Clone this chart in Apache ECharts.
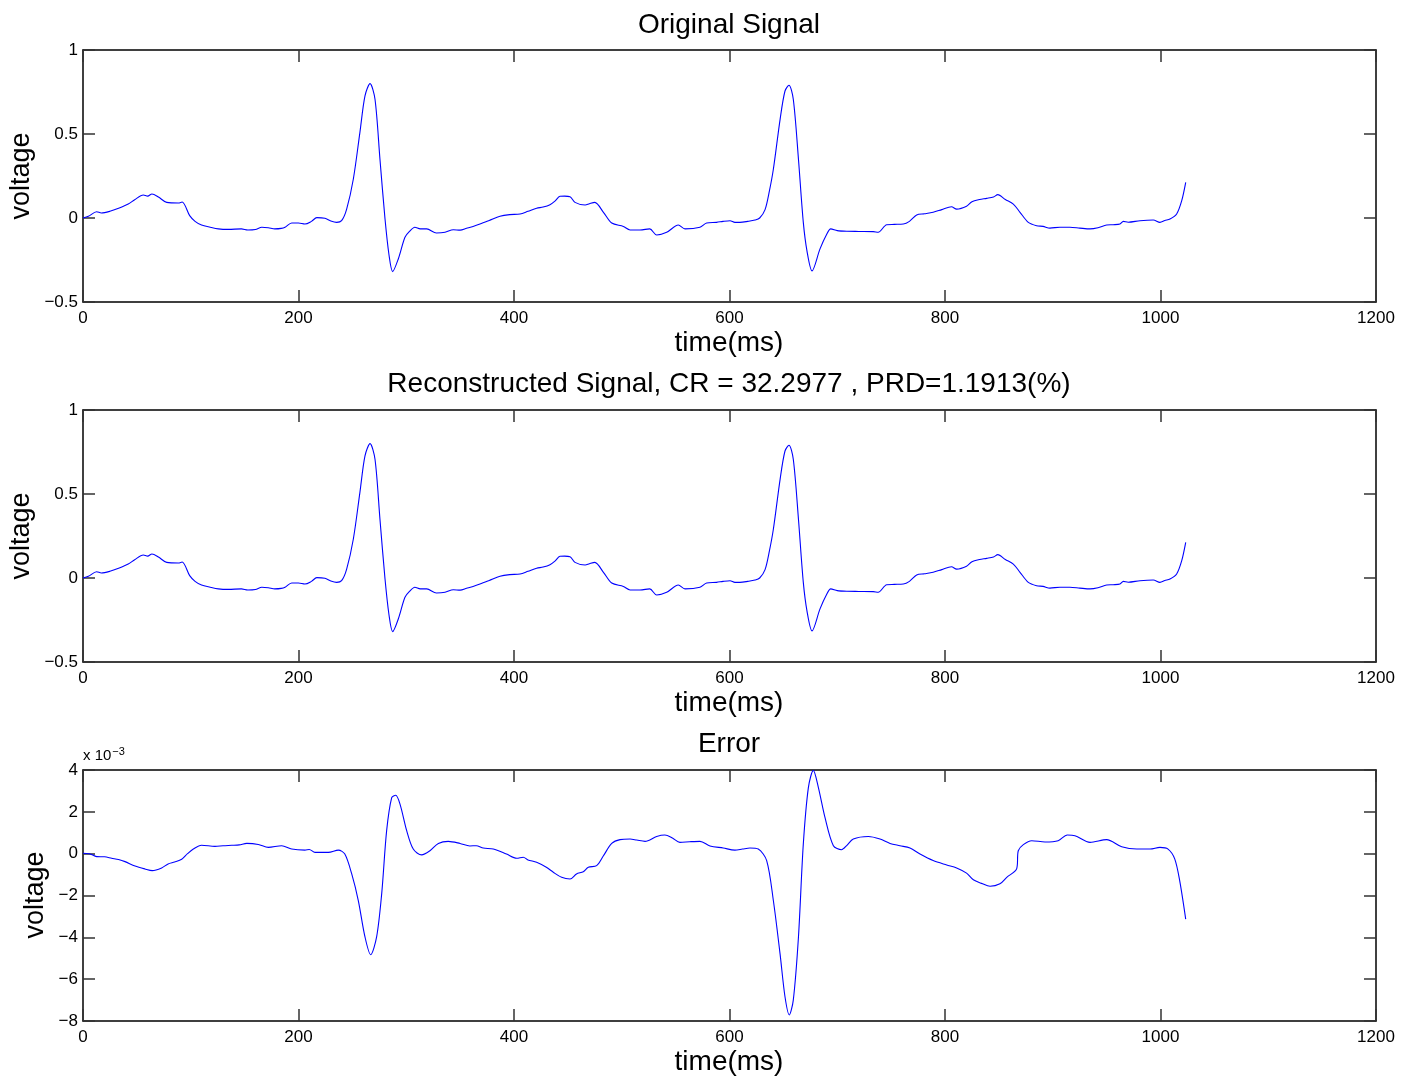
<!DOCTYPE html>
<html>
<head>
<meta charset="utf-8">
<title>ECG compression</title>
<script src="https://cdn.jsdelivr.net/npm/echarts@6/dist/echarts.min.js"></script>
<style>
  html, body { margin: 0; padding: 0; background: #fff; }
  #main { width: 1405px; height: 1083px; }
</style>
</head>
<body>
<div id="main"></div>
<script>
// time axis ticks (ms)
var xTicks = [0, 200, 400, 600, 800, 1000, 1200];

// original signal (time ms, voltage)
var origT = [0, 5, 12.7, 17, 25, 33, 42, 48, 56, 60, 64, 70, 77.7, 88.5, 92, 99, 104, 110, 118, 125.6,
  135, 147, 153, 160, 166, 172, 178, 184, 187.5, 193.7, 200, 206, 212, 217, 224.5, 230, 235.4, 240,
  244.7, 250.9, 257, 261.7, 266.4, 271, 275.6, 280.3, 284, 287.4, 292.6, 298.8, 303, 308, 313, 319,
  328, 336, 343.7, 350, 356, 362, 368.4, 377, 387, 396, 405.6, 413, 421, 427, 433.4, 438, 442.7, 447,
  452, 456.6, 466, 470, 475, 483, 490.7, 501.5, 507.7, 517, 526, 532.4, 541.7, 552.5, 558.7, 572.6,
  578.8, 588, 594, 600.5, 605, 609.7, 617, 623.7, 628, 633, 637, 640.7, 647, 651.5, 655.2, 659.2,
  664, 668.5, 672, 676.6, 684, 690, 694, 700, 708.8, 720, 733.5, 738, 745.9, 753, 761.3, 767, 773.7,
  781, 789, 797, 806, 810.8, 820, 825, 832, 838.7, 845, 849, 856, 863.4, 869.6, 877.3, 885, 891,
  897.4, 906.7, 916, 925, 934.6, 942, 950, 956, 962.4, 965.5, 970, 981, 993.3, 999.5, 1004, 1008.8,
  1015, 1019.7, 1023.4];
var origV = [0, 0.01, 0.037, 0.03, 0.04, 0.058, 0.083, 0.109, 0.137, 0.13, 0.143, 0.125, 0.093, 0.089, 0.095, 0.014, -0.02, -0.042, -0.055, -0.065,
  -0.068, -0.065, -0.071, -0.068, -0.055, -0.058, -0.065, -0.062, -0.055, -0.03, -0.03, -0.036, -0.02, 0.002, -0.002, -0.018, -0.026, -0.016,
  0.053, 0.232, 0.51, 0.727, 0.80, 0.707, 0.35, -0.006, -0.22, -0.319, -0.244, -0.115, -0.08, -0.055, -0.065, -0.065,
  -0.089, -0.085, -0.07, -0.072, -0.061, -0.05, -0.036, -0.015, 0.01, 0.02, 0.024, 0.04, 0.058, 0.065, 0.079, 0.1, 0.129, 0.13,
  0.127, 0.093, 0.077, 0.085, 0.093, 0.034, -0.03, -0.05, -0.071, -0.071, -0.065, -0.101, -0.085, -0.042, -0.065, -0.055,
  -0.03, -0.026, -0.02, -0.016, -0.026, -0.026, -0.02, -0.012, 0.0, 0.05, 0.16, 0.29, 0.589, 0.756, 0.79, 0.707,
  0.35, -0.026, -0.2, -0.315, -0.184, -0.1, -0.065, -0.075, -0.079, -0.08, -0.081, -0.085, -0.04, -0.038, -0.036, -0.02, 0.018,
  0.025, 0.034, 0.05, 0.067, 0.053, 0.07, 0.097, 0.11, 0.117, 0.125, 0.139, 0.11, 0.083, 0.034, -0.026, -0.046, -0.05,
  -0.06, -0.055, -0.055, -0.06, -0.065, -0.058, -0.042, -0.04, -0.036, -0.02, -0.025, -0.016, -0.012, -0.026, -0.015, -0.006,
  0.024, 0.103, 0.212];

// reconstructed signal looks the same as the original at this scale
var reconT = origT;
var reconV = origV;

// error, in units of 1e-3
var errT = [0, 6, 12.7, 20, 26.6, 33, 39, 48.3, 57.5, 64.3, 73, 79, 85, 91.6, 97, 102.4, 110, 122.5, 130, 138,
  145, 152, 162.7, 172, 184.4, 193.7, 206, 210, 215.3, 227.7, 237, 243, 249.4, 255.5, 261.7, 267, 272.5, 277.2,
  281.8, 286.5, 290.2, 294.2, 300.4, 306.5, 314.3, 322, 329.8, 339, 350, 359, 365, 371.5, 380.8, 393, 402.5,
  408.6, 413, 421, 430, 436.5, 444.2, 452, 458, 464.3, 469, 476.7, 483, 490.7, 498.4, 507.7, 514, 521.6, 532.4,
  540, 547, 554, 563, 572.6, 581.9, 594.2, 605, 612, 619, 626.7, 634.5, 640.7, 646.9, 651.5, 655.5, 659.2, 664,
  668.5, 673.2, 677.8, 682.5, 688.6, 696.4, 704, 709, 714.9, 728.8, 739.7, 749, 758.2, 767.5, 776.8, 789, 801.6,
  810.8, 820, 826.3, 834, 841.8, 851, 857.3, 866.5, 868, 872.7, 880.5, 892.8, 905, 913.5, 920.6, 934.6, 950, 964,
  978, 990.3, 999.5, 1007, 1013.2, 1017.8, 1023.4];
var errV = [0.02, 0.0, -0.14, -0.15, -0.22, -0.28, -0.38, -0.59, -0.73, -0.81, -0.68, -0.49, -0.4, -0.27, 0.0, 0.22, 0.40, 0.35, 0.38, 0.40,
  0.42, 0.49, 0.44, 0.30, 0.38, 0.22, 0.17, 0.2, 0.06, 0.06, 0.17, -0.02, -0.97, -2.24, -3.98, -4.83, -3.98, -1.92,
  1.1, 2.68, 2.79, 2.37, 1.10, 0.22, -0.06, 0.14, 0.49, 0.59, 0.49, 0.37, 0.38, 0.27, 0.22, -0.02, -0.22,
  -0.17, -0.30, -0.41, -0.65, -0.89, -1.13, -1.21, -0.97, -0.86, -0.65, -0.57, -0.10, 0.49, 0.67, 0.70, 0.65, 0.59, 0.82,
  0.89, 0.75, 0.54, 0.57, 0.59, 0.37, 0.27, 0.17, 0.22, 0.27, 0.22, -0.33, -2.24, -4.78, -6.84, -7.71, -7.0, -3.98,
  0.46, 3.16, 3.98, 3.16, 1.73, 0.38, 0.19, 0.4, 0.70, 0.82, 0.70, 0.49, 0.38, 0.27, -0.02, -0.33, -0.54,
  -0.68, -0.93, -1.25, -1.42, -1.56, -1.44, -1.13, -0.73, 0.14, 0.43, 0.62, 0.56, 0.62, 0.89, 0.86, 0.54, 0.67, 0.33,
  0.22, 0.22, 0.30, 0.22, -0.25, -1.29, -3.13];

var titles = ['Original Signal', 'Reconstructed Signal, CR = 32.2977 , PRD=1.1913(%)', 'Error'];

function pairs(t, v) {
    return t.map(function (x, i) { return [x, v[i]]; });
}

var font = '"Liberation Sans", Arial, Helvetica, sans-serif';
var tops = [50, 410, 770];
var heights = [252, 252, 251];
var yRange = [[-0.5, 1, 0.5], [-0.5, 1, 0.5], [-8, 4, 2]];

var grids = [], xAxes = [], yAxes = [], series = [];
var seriesData = [pairs(origT, origV), pairs(reconT, reconV), pairs(errT, errV)];

function minusFmt(v) {
    return String(v).replace('-', '\u2212');
}

for (var i = 0; i < 3; i++) {
    grids.push({ left: 83, top: tops[i], width: 1293, height: heights[i] });
    // bottom and top x axes (box + ticks inside on both)
    [ 'bottom', 'top' ].forEach(function (pos) {
        xAxes.push({
            type: 'value', gridIndex: i, position: pos,
            min: xTicks[0], max: xTicks[xTicks.length - 1], interval: xTicks[1] - xTicks[0],
            axisLine: { show: true, onZero: false, lineStyle: { color: '#000', width: 1.5 } },
            axisTick: { show: true, inside: true, length: 12, lineStyle: { color: '#333', width: 1.5 } },
            axisLabel: { show: pos === 'bottom', color: '#000', fontSize: 17, fontFamily: font, margin: 8,
                formatter: function (v) { return String(v); } },
            splitLine: { show: false }
        });
    });
    [ 'left', 'right' ].forEach(function (pos) {
        yAxes.push({
            type: 'value', gridIndex: i, position: pos,
            min: yRange[i][0], max: yRange[i][1], interval: yRange[i][2],
            axisLine: { show: true, onZero: false, lineStyle: { color: '#000', width: 1.5 } },
            axisTick: { show: true, inside: true, length: 12, lineStyle: { color: '#333', width: 1.5 } },
            axisLabel: { show: pos === 'left', color: '#000', fontSize: 17, fontFamily: font, margin: 5, formatter: minusFmt },
            splitLine: { show: false }
        });
    });
    series.push({
        type: 'line', xAxisIndex: i * 2, yAxisIndex: i * 2,
        data: seriesData[i], showSymbol: false, smooth: 0.3,
        lineStyle: { color: '#0000ff', width: 1.1 },
        animation: false
    });
}

var graphics = [];
var titleY = [25, 384, 744];
var xNameY = [343, 703, 1062];
var yNameX = [22, 22, 36];
var yNameY = [176, 536, 895];
for (var k = 0; k < 3; k++) {
    graphics.push({ type: 'text', x: 729, y: titleY[k],
        style: { text: titles[k], font: '28px ' + font, fill: '#000', textAlign: 'center', textVerticalAlign: 'middle' } });
    graphics.push({ type: 'text', x: 729, y: xNameY[k],
        style: { text: 'time(ms)', font: '28px ' + font, fill: '#000', textAlign: 'center', textVerticalAlign: 'middle' } });
    graphics.push({ type: 'text', x: yNameX[k], y: yNameY[k], rotation: Math.PI / 2,
        style: { text: 'voltage', font: '27px ' + font, fill: '#000', textAlign: 'center', textVerticalAlign: 'middle' } });
}
// exponent label of the error axis
graphics.push({ type: 'text', x: 83, y: 756,
    style: { text: '{a|x 10}{b|\u22123}', textAlign: 'left', textVerticalAlign: 'middle',
        rich: { a: { fontSize: 15, fontFamily: font, fill: '#000' },
                b: { fontSize: 11, fontFamily: font, fill: '#000', verticalAlign: 'top', padding: [0, 0, 8, 1] } } } });

var myChart = echarts.init(document.getElementById('main'));
var option = {
    backgroundColor: '#fff',
    animation: false,
    grid: grids,
    xAxis: xAxes,
    yAxis: yAxes,
    series: series,
    graphic: graphics
};
myChart.setOption(option);
</script>
</body>
</html>
